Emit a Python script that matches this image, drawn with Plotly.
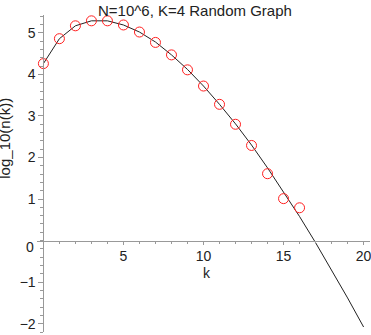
import plotly.graph_objects as go

# degree k
k_line = list(range(0, 21))
# theoretical curve log10(n(k))
logn_line = [4.26, 4.86, 5.17, 5.29, 5.29, 5.19, 5.02, 4.78, 4.47, 4.12,
             3.72, 3.28, 2.81, 2.30, 1.75, 1.18, 0.58, -0.05, -0.71, -1.38,
             -2.08]

# simulated points
k_pts = list(range(0, 17))
logn_pts = [4.26, 4.86, 5.17, 5.29, 5.29, 5.19, 5.02, 4.77, 4.47, 4.11,
            3.72, 3.28, 2.80, 2.29, 1.61, 1.01, 0.79]

y_ticks = [-2, -1, 1, 2, 3, 4, 5]

XR = [-0.4, 20.4]
YR = [-2.2, 5.43]
FONT = "Liberation Sans, Arial, sans-serif"

fig = go.Figure()
fig.add_trace(go.Scatter(
    x=k_line, y=logn_line, mode='lines',
    line=dict(color='#222222', width=1),
    showlegend=False, hoverinfo='skip',
))
fig.add_trace(go.Scatter(
    x=k_pts, y=logn_pts, mode='markers',
    marker=dict(symbol='circle-open', size=10, color='#ff2020',
                line=dict(width=1, color='#ff2020')),
    showlegend=False,
))

x_pos = (0 - YR[0]) / (YR[1] - YR[0])
y_pos = (0 - XR[0]) / (XR[1] - XR[0])

fig.update_layout(
    width=371, height=335,
    margin=dict(l=37, r=1, t=15, b=3),
    plot_bgcolor='white', paper_bgcolor='white',
    font=dict(family=FONT, size=14, color='#222222'),
    xaxis=dict(
        range=XR, anchor='free', position=x_pos, automargin=False,
        showgrid=False, zeroline=False, ticklabeloverflow='allow',
        showline=True, linecolor='#999999', linewidth=1,
        tickvals=[5, 10, 15, 20], ticks='outside', ticklen=3,
        tickcolor='#999999',
        minor=dict(dtick=1, ticks='outside', ticklen=2, tickcolor='#999999'),
    ),
    yaxis=dict(
        range=YR, anchor='free', position=y_pos, automargin=False,
        showgrid=False, zeroline=False, ticklabeloverflow='allow',
        showline=True, linecolor='#999999', linewidth=1,
        tickvals=y_ticks, ticks='outside', ticklen=5,
        tickcolor='#999999',
        minor=dict(dtick=0.2, ticks='outside', ticklen=3, tickcolor='#999999'),
    ),
    annotations=[
        dict(text='N=10^6, K=4 Random Graph', xref='paper', yref='paper',
             x=(195 - 37) / 333, y=1, yshift=15, xanchor='center',
             yanchor='top', showarrow=False, font=dict(size=15)),
        dict(text='log_10(n(k))', xref='paper', yref='y',
             x=(5 - 37) / 333, y=(241 - 139) / 41.6, textangle=-90,
             xanchor='center', yanchor='middle',
             showarrow=False, font=dict(size=15)),
        dict(text='k', xref='x', yref='y', x=10.2, y=-0.77,
             showarrow=False, font=dict(size=14)),
        dict(text='0', xref='x', yref='y', x=0, y=0, xanchor='right',
             yanchor='middle', xshift=-7, yshift=-6,
             showarrow=False, font=dict(size=14)),
    ],
)

fig.write_html("out.html", config={'displayModeBar': False},
               post_script="document.body.style.margin='0';")
